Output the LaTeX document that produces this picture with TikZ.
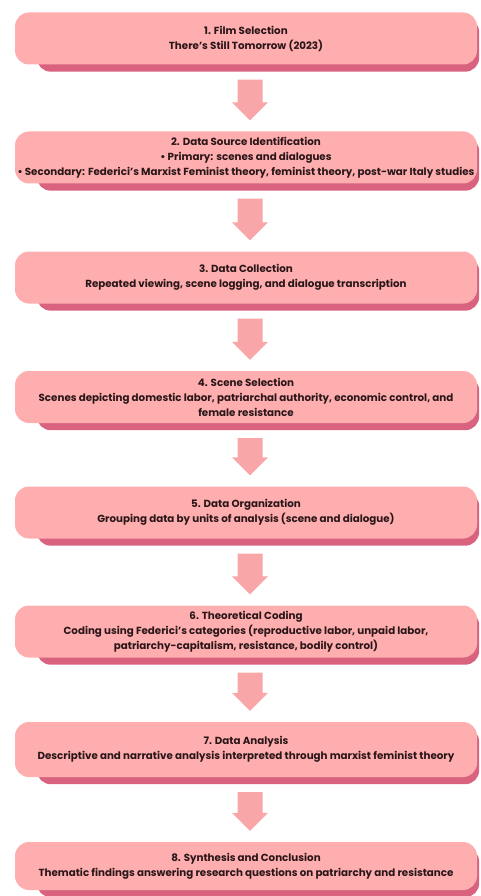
\documentclass[tikz,border=0pt]{standalone}
\usepackage{fontspec}
\setmainfont{Poppins}
\usepackage{xcolor}
\usetikzlibrary{calc,backgrounds}
\definecolor{boxpink}{HTML}{FFAEAF}
\definecolor{shadowpink}{HTML}{D9637F}
\definecolor{arrowpink}{HTML}{F8A6A8}
\definecolor{inkdark}{HTML}{2A1618}

\tikzset{
  stepbox/.style={draw=none, fill=boxpink, rounded corners=14, minimum width=462, minimum height=52,
    inner xsep=1, align=center, text=inkdark, font=\fontsize{10.3}{15}\selectfont\bfseries},
}
% block arrow between two steps
\newcommand{\flowarrow}[2]{%
  \fill[arrowpink] ($(#1.south)+(-8.5,15)$) -- ($(#1.south)+(16.5,15)$) -- ($(#2.north)+(16.5,-29)$)
    -- ($(#2.north)+(22,-29)$) -- ($(#2.north)+(4,-11)$) -- ($(#2.north)+(-14,-29)$)
    -- ($(#2.north)+(-8.5,-29)$) -- cycle;}

\begin{document}
\begin{tikzpicture}[x=1pt,y=1pt,yscale=-1,xscale=1]
	\useasboundingbox (0,0) rectangle (480,896);
	\node[stepbox] (s1) at (246,38.5) {1. Film Selection\\There's Still Tomorrow (2023)};
	\node[stepbox] (s2) at (246,157.5) {2. Data Source Identification\\• Primary: scenes and dialogues\\• Secondary: Federici's Marxist Feminist theory, feminist theory, post-war Italy studies};
	\node[stepbox] (s3) at (246,277.5) {3. Data Collection\\Repeated viewing, scene logging, and dialogue transcription};
	\node[stepbox] (s4) at (246,397) {4. Scene Selection\\Scenes depicting domestic labor, patriarchal authority, economic control, and\\female resistance};
	\node[stepbox] (s5) at (246,512.5) {5. Data Organization\\Grouping data by units of analysis (scene and dialogue)};
	\node[stepbox] (s6) at (246,631.5) {6. Theoretical Coding\\Coding using Federici's categories (reproductive labor, unpaid labor,\\patriarchy-capitalism, resistance, bodily control)};
	\node[stepbox, minimum height=55] (s7) at (246,749.5) {7. Data Analysis\\Descriptive and narrative analysis interpreted through marxist feminist theory};
	\node[stepbox, minimum height=48] (s8) at (246,866) {8. Synthesis and Conclusion\\Thematic findings answering research questions on patriarchy and resistance};
	\begin{scope}[on background layer]
	\foreach \i in {1,...,8}
		\fill[shadowpink, rounded corners=14] ($(s\i.north west)+(22,6)$) rectangle ($(s\i.south east)+(2,7)$);
	\end{scope}
	\flowarrow{s1}{s2}
	\flowarrow{s2}{s3}
	\flowarrow{s3}{s4}
	\flowarrow{s4}{s5}
	\flowarrow{s5}{s6}
	\flowarrow{s6}{s7}
	\flowarrow{s7}{s8}
\end{tikzpicture}
\end{document}
